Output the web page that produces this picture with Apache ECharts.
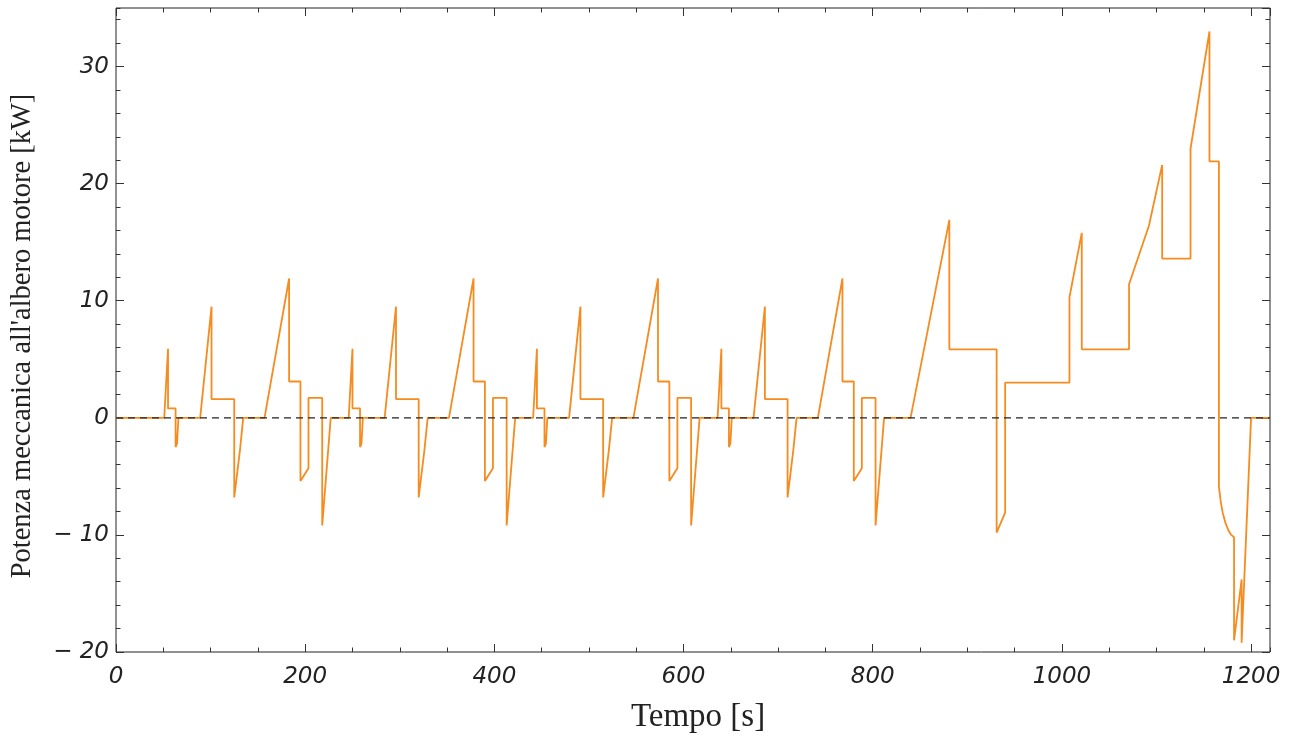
<!DOCTYPE html>
<html>
<head>
<meta charset="utf-8">
<script src="https://cdn.jsdelivr.net/npm/echarts@6/dist/echarts.min.js"></script>
<style>
  html, body { margin: 0; padding: 0; background: #fff; }
  #chart { width: 1293px; height: 737px; }
</style>
</head>
<body>
<div id="chart"></div>
<script>
// Mechanical power at the motor shaft over the NEDC cycle (40 s warm-up idle first).
// Each entry is [time s, power kW].
const ece1 = [
  [0, 0], [51, 0], [55, 5.9], [55, 0.8], [63, 0.8], [63, -2.5], [64.5, -2.2], [66, 0],
  [89, 0], [101, 9.5], [101, 1.6], [125, 1.6], [125, -6.8], [131, -2.8], [134.5, 0],
  [157, 0], [183, 11.9], [183, 3.1], [195, 3.1], [195, -5.4], [203.5, -4.3], [203.5, 1.7],
  [218, 1.7], [218, -9.2], [227, 0]
];
const ece2 = [
  [246, 0], [250, 5.9], [250, 0.8], [258, 0.8], [258, -2.5], [259.5, -2.2], [261, 0],
  [284, 0], [296, 9.5], [296, 1.6], [320, 1.6], [320, -6.8], [326, -2.8], [329.5, 0],
  [352, 0], [378, 11.9], [378, 3.1], [390, 3.1], [390, -5.4], [398.5, -4.3], [398.5, 1.7],
  [413, 1.7], [413, -9.2], [422, 0]
];
const ece3 = [
  [441, 0], [445, 5.9], [445, 0.8], [453, 0.8], [453, -2.5], [454.5, -2.2], [456, 0],
  [479, 0], [491, 9.5], [491, 1.6], [515, 1.6], [515, -6.8], [521, -2.8], [524.5, 0],
  [547, 0], [573, 11.9], [573, 3.1], [585, 3.1], [585, -5.4], [593.5, -4.3], [593.5, 1.7],
  [608, 1.7], [608, -9.2], [617, 0]
];
const ece4 = [
  [636, 0], [640, 5.9], [640, 0.8], [648, 0.8], [648, -2.5], [649.5, -2.2], [651, 0],
  [674, 0], [686, 9.5], [686, 1.6], [710, 1.6], [710, -6.8], [716, -2.8], [719.5, 0],
  [742, 0], [768, 11.9], [768, 3.1], [780, 3.1], [780, -5.4], [788.5, -4.3], [788.5, 1.7],
  [803, 1.7], [803, -9.2], [812, 0]
];
const eudc = [
  [840, 0], [881, 16.9], [881, 5.85], [931, 5.85], [931, -9.8], [940, -8.1], [940, 3.0],
  [1008, 3.0], [1008, 10.3], [1021, 15.8], [1021, 5.85], [1071, 5.85], [1071, 11.4],
  [1092, 16.4], [1106, 21.6], [1106, 13.6], [1136, 13.6], [1136, 23.0], [1156, 33.0],
  [1156, 21.9], [1166, 21.9], [1166, -5.9], [1168, -7.2], [1170, -8.1], [1173, -9.0],
  [1176, -9.6], [1179, -10.0], [1182, -10.2], [1182, -19.0], [1190, -13.8], [1190, -19.2],
  [1200, 0], [1220, 0]
];

// Axis ranges and tick spacing
const xRange = [0, 1220];
const yRange = [-20, 35];
const xMajor = 200, xMinor = 50;
const yMajor = 10, yMinor = 2;
const xTitle = 'Tempo [s]';
const yTitle = "Potenza meccanica all'albero motore [kW]";

const power = [].concat(ece1, ece2, ece3, ece4, eudc);

const tickColor = '#333';
const labelFont = {
  fontFamily: 'DejaVu Sans',
  fontStyle: 'italic',
  fontSize: 23,
  color: '#222'
};

function fmt(v) {
  if (v < 0) return '\u2212 ' + Math.abs(v);
  return String(v);
}

// One axis per side for long ticks and one for short ticks, all on the frame.
function xAxis(position, major, showLabels) {
  return {
    type: 'value', position: position,
    min: xRange[0], max: xRange[1],
    interval: major ? xMajor : xMinor,
    axisLine: { show: false, onZero: false },
    axisTick: { show: true, inside: true, length: major ? 8 : 4.5, lineStyle: { color: tickColor, width: 1 } },
    axisLabel: showLabels ? Object.assign({ show: true, margin: 14, showMaxLabel: false, formatter: fmt }, labelFont) : { show: false },
    splitLine: { show: false },
    name: showLabels ? xTitle : '',
    nameLocation: 'middle',
    nameGap: 49,
    nameTextStyle: { fontFamily: 'Liberation Serif', fontSize: 33, color: '#222', padding: [0, 0, 0, 10] }
  };
}
function yAxis(position, major, showLabels) {
  return {
    type: 'value', position: position,
    min: yRange[0], max: yRange[1],
    interval: major ? yMajor : yMinor,
    axisLine: { show: false, onZero: false },
    axisTick: { show: true, inside: true, length: major ? 8 : 4.5, lineStyle: { color: tickColor, width: 1 } },
    axisLabel: showLabels ? Object.assign({ show: true, margin: 7, showMaxLabel: false, formatter: fmt }, labelFont) : { show: false },
    splitLine: { show: false },
    name: showLabels ? yTitle : '',
    nameLocation: 'middle',
    nameGap: 79,
    nameTextStyle: { fontFamily: 'Liberation Serif', fontSize: 28.5, color: '#222', padding: [0, 12, 0, 0] }
  };
}

const chart = echarts.init(document.getElementById('chart'), null, { renderer: 'canvas' });
chart.setOption({
  animation: false,
  backgroundColor: '#fff',
  grid: {
    left: 116, right: 23, top: 8, bottom: 85,
    containLabel: false,
    outerBoundsMode: 'none',
    show: true, borderColor: '#222', borderWidth: 1, backgroundColor: 'transparent'
  },
  xAxis: [
    xAxis('bottom', true, true),
    xAxis('bottom', false, false),
    xAxis('top', true, false),
    xAxis('top', false, false)
  ],
  yAxis: [
    yAxis('left', true, true),
    yAxis('left', false, false),
    yAxis('right', true, false),
    yAxis('right', false, false)
  ],
  series: [
    {
      type: 'line',
      data: power,
      xAxisIndex: 0, yAxisIndex: 0,
      showSymbol: false,
      lineStyle: { color: '#F68B1F', width: 1.8 },
      z: 2
    },
    {
      type: 'line',
      data: [[xRange[0], 0], [xRange[1], 0]],
      xAxisIndex: 0, yAxisIndex: 0,
      showSymbol: false,
      lineStyle: { color: '#222', width: 1.2, type: [7, 5] },
      z: 3
    }
  ]
});
</script>
</body>
</html>
